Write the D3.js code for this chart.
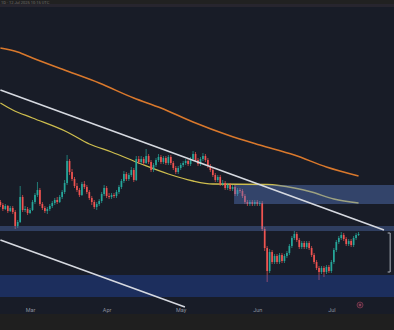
<!DOCTYPE html>
<html>
<head>
<meta charset="utf-8">
<script src="https://cdn.jsdelivr.net/npm/d3@7"></script>
<style>
  body { margin: 0; background: #181c27; overflow: hidden; }
  svg { display: block; }
</style>
</head>
<body>
<svg width="394" height="330"></svg>
<script>
// daily candles, first one on 17 Feb; open of each day = previous close
var firstDay = Date.UTC(2025, 1, 17);
var firstOpen = 1.98;
var closes = [1.95,1.91,1.94,1.89,1.92,1.88,1.74,1.78,2.03,1.90,1.91,1.87,1.90,1.98,2.05,2.10,1.96,1.92,1.89,1.91,
  1.94,1.97,2.00,1.98,2.03,2.08,2.17,2.39,2.28,2.21,2.14,2.10,2.05,2.16,2.13,2.08,2.02,1.98,1.93,1.96,
  1.99,2.06,2.12,2.04,2.03,2.05,2.04,2.08,2.13,2.19,2.26,2.21,2.25,2.30,2.20,2.41,2.38,2.41,2.37,2.44,
  2.38,2.30,2.35,2.40,2.43,2.38,2.42,2.37,2.43,2.37,2.32,2.28,2.32,2.35,2.37,2.39,2.36,2.41,2.46,2.40,
  2.36,2.41,2.44,2.40,2.34,2.30,2.25,2.20,2.23,2.16,2.17,2.12,2.15,2.11,2.13,2.06,2.10,2.09,2.04,1.98,
  1.96,1.98,1.96,1.98,1.96,1.97,1.71,1.52,1.29,1.48,1.38,1.44,1.38,1.45,1.39,1.44,1.47,1.54,1.62,1.66,
  1.60,1.53,1.57,1.53,1.57,1.52,1.45,1.38,1.32,1.28,1.32,1.28,1.33,1.29,1.38,1.50,1.58,1.62,1.65,1.61,
  1.56,1.59,1.55,1.62,1.65,1.66];
var highs = [2.00,1.97,1.96,1.95,1.94,1.94,1.90,1.80,2.14,2.05,1.94,1.93,1.92,2.00,2.07,2.18,2.12,1.98,1.94,1.93,
  1.96,1.99,2.02,2.03,2.05,2.10,2.20,2.45,2.41,2.31,2.23,2.17,2.12,2.18,2.19,2.15,2.10,2.04,2.00,1.98,
  2.01,2.08,2.15,2.14,2.07,2.07,2.07,2.10,2.15,2.21,2.29,2.28,2.27,2.33,2.32,2.44,2.44,2.44,2.43,2.51,
  2.46,2.40,2.37,2.42,2.46,2.45,2.44,2.44,2.45,2.45,2.39,2.34,2.34,2.37,2.39,2.41,2.41,2.43,2.49,2.48,
  2.42,2.43,2.47,2.46,2.42,2.36,2.32,2.27,2.25,2.25,2.20,2.19,2.17,2.17,2.15,2.15,2.12,2.12,2.11,2.06,
  2.00,2.00,2.00,2.00,2.00,1.99,1.99,1.73,1.54,1.51,1.50,1.46,1.46,1.47,1.47,1.46,1.49,1.56,1.64,1.69,
  1.68,1.62,1.59,1.59,1.59,1.59,1.54,1.47,1.40,1.34,1.34,1.34,1.35,1.35,1.40,1.52,1.60,1.64,1.68,1.67,
  1.63,1.61,1.61,1.64,1.67,1.68];
var lows = [1.93,1.89,1.90,1.87,1.88,1.86,1.71,1.72,1.77,1.88,1.88,1.85,1.86,1.89,1.96,2.03,1.94,1.90,1.87,1.86,
  1.89,1.92,1.95,1.96,1.97,2.01,2.06,2.15,2.25,2.19,2.12,2.08,2.03,2.04,2.11,2.06,2.00,1.95,1.91,1.90,
  1.94,1.97,2.04,2.02,2.01,2.01,2.02,2.02,2.06,2.11,2.17,2.19,2.19,2.23,2.18,2.19,2.36,2.36,2.35,2.36,
  2.36,2.28,2.28,2.33,2.38,2.36,2.36,2.35,2.35,2.35,2.30,2.26,2.26,2.30,2.33,2.35,2.34,2.34,2.39,2.38,
  2.34,2.34,2.39,2.38,2.32,2.28,2.23,2.18,2.18,2.14,2.14,2.10,2.10,2.09,2.09,2.04,2.04,2.07,2.02,1.96,
  1.94,1.94,1.94,1.94,1.94,1.94,1.69,1.49,1.18,1.27,1.36,1.36,1.36,1.36,1.37,1.37,1.42,1.45,1.52,1.60,
  1.58,1.51,1.51,1.51,1.51,1.50,1.43,1.36,1.30,1.20,1.26,1.23,1.26,1.27,1.27,1.36,1.48,1.56,1.60,1.59,
  1.54,1.54,1.53,1.53,1.60,1.64];

// moving averages, [day index, value]
var ma200 = [[0,3.52],[7,3.48],[13,3.42],[27,3.29],[40,3.17],[54,3.02],[65,2.92],[78,2.78],[92,2.65],
  [105,2.55],[119,2.45],[132,2.33],[145,2.24]];
var ma100 = [[0,2.97],[5,2.90],[13,2.82],[27,2.68],[36,2.56],[45,2.48],[57,2.36],[68,2.26],[78,2.19],
  [86,2.16],[108,2.155],[119,2.12],[126,2.08],[135,2.01],[145,1.97]];

// drawn levels: trendlines [day, value] pairs, zones [from day, top, bottom]
var channelTop = [[0,3.10],[155.3,1.70]];
var channelBottom = [[0,1.60],[74.7,0.93]];
var supplyZone = [94.6, 2.15, 1.96];
var thinLevel = [-1, 1.74, 1.69];
var demandZone = [-1, 1.25, 1.03];
var measure = [157.8, 1.67, 1.28];
var monthTicks = [Date.UTC(2025,2,1), Date.UTC(2025,3,1), Date.UTC(2025,4,1), Date.UTC(2025,5,1), Date.UTC(2025,6,1)];
var monthLabels = ["Mar", "Apr", "May", "Jun", "Jul"];

var svg = d3.select("svg"),
    width = +svg.attr("width"),
    height = +svg.attr("height");

function day(i) { return new Date(firstDay + i * 864e5); }

var x = d3.scaleUtc().domain([day(0), day(160)]).range([0.4, 395.6]);
var y = d3.scaleLinear().domain([3.93, 0.86]).range([7, 314]);

// background strips
svg.append("rect").attr("width", width).attr("height", 4).attr("fill", "#212121");
svg.append("rect").attr("y", 4).attr("width", width).attr("height", 3).attr("fill", "#27252e");
svg.append("rect").attr("y", 7).attr("width", width).attr("height", 307).attr("fill", "#181c27");
svg.append("rect").attr("y", 314).attr("width", width).attr("height", 16).attr("fill", "#1f1f1f");

svg.append("text")
    .attr("x", 1).attr("y", 4)
    .attr("font-family", "Roboto, sans-serif")
    .attr("font-size", 4)
    .attr("fill", "#6f6f6f")
    .text("1D · 12 Jul 2025 10:15 UTC");

svg.append("clipPath").attr("id", "plot")
  .append("rect").attr("y", 7).attr("width", width).attr("height", 307);

var g = svg.append("g").attr("clip-path", "url(#plot)");

// moving averages
var maLine = d3.line()
    .x(function (d) { return x(day(d[0])); })
    .y(function (d) { return y(d[1]); })
    .curve(d3.curveMonotoneX);

g.append("path").datum(ma200).attr("d", maLine)
    .attr("fill", "none").attr("stroke", "#d9782c").attr("stroke-width", 1.5);
g.append("path").datum(ma100).attr("d", maLine)
    .attr("fill", "none").attr("stroke", "#cdbd4e").attr("stroke-width", 1.3);

// candles
var candles = closes.map(function (c, i) {
    return { i: i, o: i ? closes[i - 1] : firstOpen, c: c, h: highs[i], l: lows[i] };
});
function col(d) { return d.c >= d.o ? "#26a69a" : "#ef5350"; }

g.selectAll(".wick").data(candles).enter().append("line")
    .attr("x1", function (d) { return x(day(d.i)); })
    .attr("x2", function (d) { return x(day(d.i)); })
    .attr("y1", function (d) { return y(d.h); })
    .attr("y2", function (d) { return y(d.l); })
    .attr("stroke", col).attr("stroke-width", 0.7);

g.selectAll(".body").data(candles).enter().append("rect")
    .attr("x", function (d) { return x(day(d.i)) - 0.85; })
    .attr("width", 1.7)
    .attr("y", function (d) { return y(Math.max(d.o, d.c)); })
    .attr("height", function (d) { return Math.max(0.8, Math.abs(y(d.o) - y(d.c))); })
    .attr("fill", col);

// zones
function zone(z, fill, op) {
    var x0 = z[0] < 0 ? 0 : x(day(z[0]));
    g.append("rect")
        .attr("x", x0).attr("width", width - x0)
        .attr("y", y(z[1])).attr("height", y(z[2]) - y(z[1]))
        .attr("fill", fill).attr("fill-opacity", op);
}
zone(supplyZone, "#5a7dc8", 0.42);
zone(thinLevel, "#5a7dc8", 0.36);
zone(demandZone, "#2962ff", 0.25);

// channel lines
[channelTop, channelBottom].forEach(function (t) {
    g.append("line")
        .attr("x1", x(day(t[0][0]))).attr("y1", y(t[0][1]))
        .attr("x2", x(day(t[1][0]))).attr("y2", y(t[1][1]))
        .attr("stroke", "#d6d9e0").attr("stroke-width", 1.6);
});

// measuring bracket
var mx = x(day(measure[0]));
g.append("line").attr("x1", mx).attr("x2", mx)
    .attr("y1", y(measure[1])).attr("y2", y(measure[2]))
    .attr("stroke", "#aeb2bb").attr("stroke-width", 1);
[measure[1], measure[2]].forEach(function (v) {
    g.append("line").attr("x1", mx - 2.5).attr("x2", mx)
        .attr("y1", y(v)).attr("y2", y(v))
        .attr("stroke", "#aeb2bb").attr("stroke-width", 1);
});

// small event marker
g.append("circle").attr("cx", x(day(145.6))).attr("cy", y(0.95)).attr("r", 3)
    .attr("fill", "#3a2232").attr("stroke", "#7b3b50").attr("stroke-width", 0.8);
g.append("circle").attr("cx", x(day(145.6))).attr("cy", y(0.95)).attr("r", 1)
    .attr("fill", "#9a4a62");

// time axis
var xAxis = d3.axisBottom(x)
    .tickValues(monthTicks.map(function (t) { return new Date(t); }))
    .tickFormat(function (d, i) { return monthLabels[i]; })
    .tickSize(0).tickPadding(0);

var ax = svg.append("g").attr("transform", "translate(0,308)").call(xAxis);
ax.select(".domain").remove();
ax.selectAll("text")
    .attr("font-family", "Roboto, sans-serif")
    .attr("font-size", 5.5)
    .attr("fill", "#8b909c");
</script>
</body>
</html>
